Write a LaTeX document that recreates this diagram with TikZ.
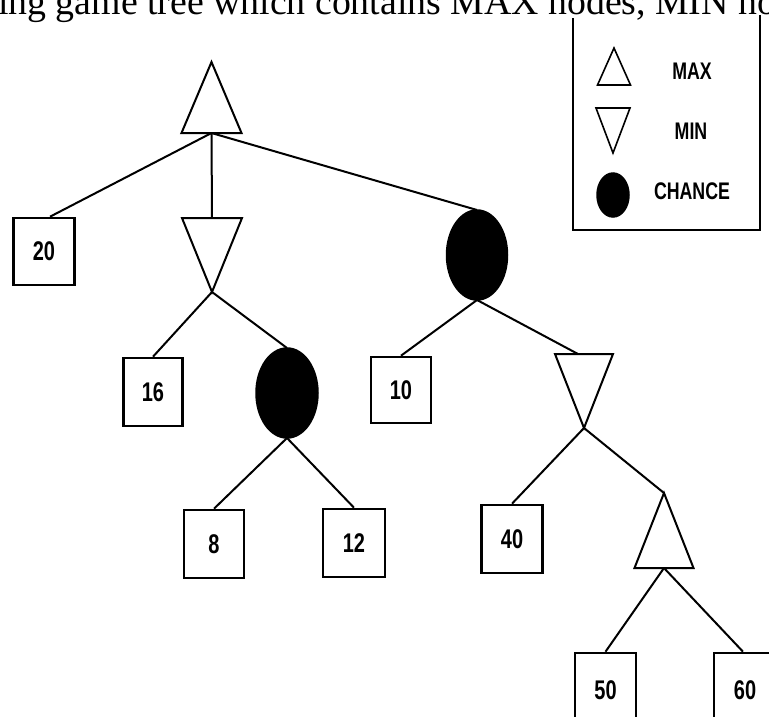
\documentclass[tikz,border=0pt]{standalone}
\usepackage{fontspec}
\usepackage{graphicx}
\setmainfont{Liberation Serif}
\newfontfamily\labfont{Liberation Sans}
\usetikzlibrary{shapes.geometric}
\newcommand\sqz[1]{\scalebox{0.74}[1]{#1}}
\begin{document}
\begin{tikzpicture}[x=1pt,y=-1pt,
  trinode/.style={draw=none, minimum width=60pt, minimum height=73pt, inner sep=0pt, outer sep=0pt},
  trishape/.style={line width=2pt, line join=miter},
  leaf/.style={draw, line width=2.6pt, minimum width=60pt, minimum height=67pt, inner sep=0pt,
    font=\labfont\bfseries\fontsize{27}{27}\selectfont},
  chance/.style={ellipse, draw, fill=black, line width=1.5pt, minimum width=61pt, minimum height=90pt, inner sep=0pt, outer sep=0pt},
  edge/.style={line width=2pt},
  legtext/.style={font=\labfont\bfseries\fontsize{24}{24}\selectfont, inner sep=0pt}
]
\useasboundingbox (0,0) rectangle (769,716);
\clip (0,0) rectangle (769,716);

% title fragment
\node[anchor=base west, inner sep=0pt, font=\fontsize{37.8}{40}\selectfont] (title) at (-2,14)
  {ing game tree which contains MAX nodes, MIN no};

% legend
\draw[line width=2pt] (573,18) -- (573,230) -- (760,230) -- (760,15);
\node[trinode, minimum width=33pt, minimum height=37pt] (lmax) at (614,66.5) {};
\draw[trishape, line width=1.6pt] (lmax.north) -- (lmax.south west) -- (lmax.south east) -- cycle;
\node[trinode, minimum width=34pt, minimum height=45pt] (lmin) at (613,130.5) {};
\draw[trishape, line width=1.6pt] (lmin.south) -- (lmin.north west) -- (lmin.north east) -- cycle;
\node[chance, minimum width=32pt, minimum height=44pt] (lch) at (613,195) {};
\node[legtext] (tmax) at (692,71.5) {\sqz{MAX}};
\node[legtext] (tmin) at (691,131) {\sqz{MIN}};
\node[legtext] (tch) at (692,191) {\sqz{CHANCE}};

% tree nodes
\node[trinode, minimum height=71pt] (root) at (211.5,97.5) {};
\draw[trishape] (root.north) -- (root.south west) -- (root.south east) -- cycle;

\node[leaf, minimum width=61pt] (b20) at (44,251.5) {\sqz{20}};

\node[trinode, minimum height=74pt] (min1) at (212,255) {};
\draw[trishape] (min1.south) -- (min1.north west) -- (min1.north east) -- cycle;

\node[chance] (ch1) at (477,255) {};

\node[leaf, minimum width=59pt, minimum height=68pt] (b16) at (153,392) {\sqz{16}};
\node[chance, minimum width=62pt] (ch2) at (287,393) {};
\node[leaf, minimum height=66pt] (b10) at (401,390) {\sqz{10}};

\node[trinode, minimum width=58pt, minimum height=74pt] (min2) at (584,391) {};
\draw[trishape] (min2.south) -- (min2.north west) -- (min2.north east) -- cycle;

\node[leaf, minimum height=68pt] (b8) at (214,544) {\sqz{8}};
\node[leaf, minimum width=62pt, minimum height=68pt] (b12) at (354,543) {\sqz{12}};
\node[leaf, minimum width=61pt, minimum height=68pt] (b40) at (512,539) {\sqz{40}};

\node[trinode, minimum width=59pt, minimum height=75pt] (max2) at (664,530.5) {};
\draw[trishape] (max2.north) -- (max2.south west) -- (max2.south east) -- cycle;

\node[leaf, minimum width=61pt, minimum height=74pt] (b50) at (605.5,690) {\sqz{50}};
\node[leaf, minimum width=62pt, minimum height=74pt] (b60) at (745,690) {\sqz{60}};

% connectors
\draw[edge] (root.south) -- ([xshift=6pt]b20.north);
\draw[edge] (root.south) -- (min1.north);
\draw[edge] (root.south) -- (ch1.north);
\draw[edge] (min1.south) -- (b16.north);
\draw[edge] (min1.south) -- (ch2.north);
\draw[edge] (ch1.south) -- (b10.north);
\draw[edge] (ch1.south) -- ([xshift=-6pt]min2.north);
\draw[edge] (ch2.south) -- (b8.north);
\draw[edge] (ch2.south) -- (b12.north);
\draw[edge] (min2.south) -- (b40.north);
\draw[edge] (min2.south) -- (max2.north);
\draw[edge] (max2.south) -- (b50.north);
\draw[edge] (max2.south) -- ([xshift=-2pt]b60.north);
\end{tikzpicture}
\end{document}
